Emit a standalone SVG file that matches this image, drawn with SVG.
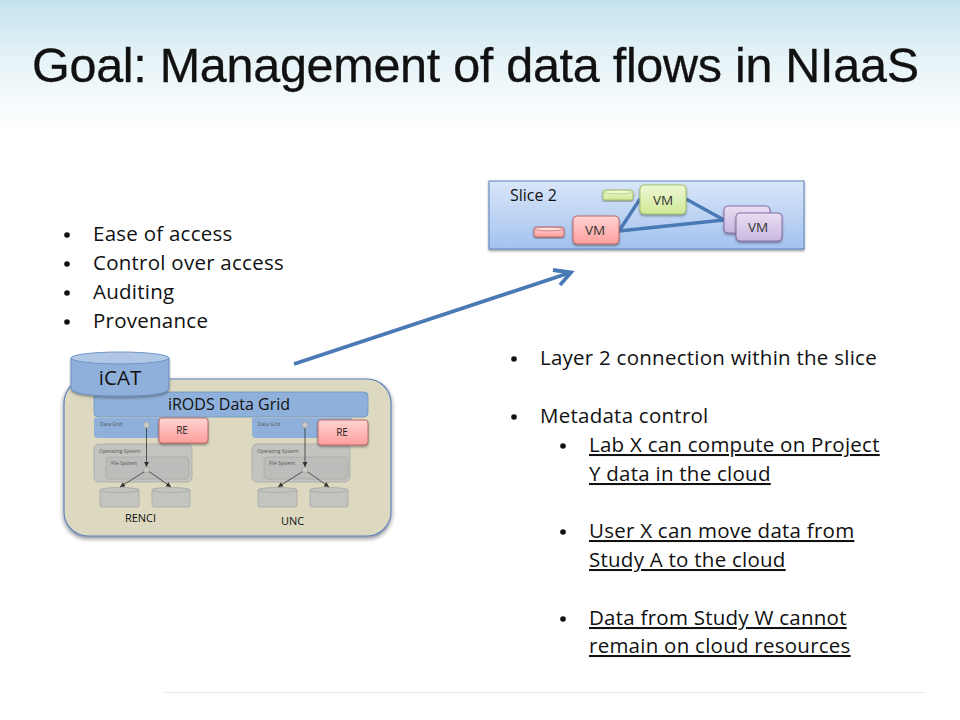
<svg xmlns="http://www.w3.org/2000/svg" width="960" height="720" viewBox="0 0 960 720">
<defs>
<linearGradient id="bg" x1="0" y1="0" x2="0" y2="1"><stop offset="0" stop-color="#c4e2ee"/><stop offset="0.45" stop-color="#e6f3f7"/><stop offset="1" stop-color="#ffffff"/></linearGradient>
<linearGradient id="slice" x1="0" y1="0" x2="0" y2="1"><stop offset="0" stop-color="#d9e6f8"/><stop offset="1" stop-color="#a3c2f0"/></linearGradient>
<linearGradient id="red" x1="0" y1="0" x2="0" y2="1"><stop offset="0" stop-color="#ffd4d2"/><stop offset="1" stop-color="#fd9e9c"/></linearGradient>
<linearGradient id="green" x1="0" y1="0" x2="0" y2="1"><stop offset="0" stop-color="#eef8d4"/><stop offset="1" stop-color="#cfe996"/></linearGradient>
<linearGradient id="purple" x1="0" y1="0" x2="0" y2="1"><stop offset="0" stop-color="#e8dff2"/><stop offset="1" stop-color="#c9b7e0"/></linearGradient>
<filter id="sh" x="-10%" y="-10%" width="120%" height="125%"><feDropShadow dx="0" dy="1.500" stdDeviation="1.200" flood-color="#333" flood-opacity="0.5"/></filter>
<filter id="sh2" x="-10%" y="-10%" width="120%" height="125%"><feDropShadow dx="0" dy="2" stdDeviation="2" flood-color="#222" flood-opacity="0.55"/></filter>
<marker id="ah" markerWidth="6" markerHeight="6" refX="5" refY="2.500" orient="auto" markerUnits="userSpaceOnUse"><path d="M0,0 L5,2.500 L0,5 Z" fill="#333"/></marker>
</defs>
<style>
text{font-family:"Open Sans","Liberation Sans",sans-serif;fill:#111}
.b{font-size:20.500px;letter-spacing:0.250px}
.u{font-size:20.500px;letter-spacing:0.250px;text-decoration:underline}
.s{font-size:10px;text-anchor:middle;fill:#222}
.vt{font-size:13.500px;text-anchor:middle;fill:#333}
.t{font-size:5px;fill:#555}
.g{fill:#c3c3c0;stroke:#a8a8a6;stroke-width:0.800}
.gi{fill:#bcbcba;stroke:#a8a8a6;stroke-width:0.800}
.l{stroke:#333;stroke-width:0.800;fill:none}
.vmr{fill:url(#red);stroke:#b96a6a;stroke-width:1;filter:url(#sh)}
.vmg{fill:url(#green);stroke:#a5c46c;stroke-width:1;filter:url(#sh)}
.vmp{fill:url(#purple);stroke:#8a70a8;stroke-width:1;filter:url(#sh)}
</style>
<rect width="960" height="130" fill="url(#bg)"/>
<line x1="165" y1="692.500" x2="925" y2="692.500" stroke="#e4e4e4"/>
<text x="32" y="82" style="font-family:'Liberation Sans',Arial,sans-serif;font-size:48.500px" textLength="887" stroke="#111" stroke-width="0.300">Goal: Management of data flows in NIaaS</text>

<g id="bullets-left">
<circle cx="67" cy="235" r="2.800" fill="#111"/><text class="b" x="93" y="241">Ease of access</text>
<circle cx="67" cy="264" r="2.800" fill="#111"/><text class="b" x="93" y="270">Control over access</text>
<circle cx="67" cy="293" r="2.800" fill="#111"/><text class="b" x="93" y="299">Auditing</text>
<circle cx="67" cy="322" r="2.800" fill="#111"/><text class="b" x="93" y="328">Provenance</text>
</g>

<g id="slice-2">
<rect x="489" y="181" width="315" height="68" fill="url(#slice)" stroke="#5f86bd" stroke-width="1" filter="url(#sh)"/>
<text x="510" y="201" font-size="16">Slice 2</text>
</g>

<g id="connectors">
<g stroke="#4a7ab5" stroke-width="3.400" fill="none">
<line x1="619" y1="231" x2="640" y2="199"/>
<line x1="619" y1="231" x2="724" y2="220"/>
<line x1="686" y1="199" x2="724" y2="220"/>
</g>
<path d="M294 364 L569 273" stroke="#4a7ab5" stroke-width="3.800" fill="none"/>
<path d="M553 270 L571 272.500 L560 285" stroke="#4a7ab5" stroke-width="3.800" fill="none"/>
</g>

<g id="disk-red"><rect x="534" y="227" width="30" height="10" rx="2.500" class="vmr"/><ellipse cx="549" cy="229" rx="15" ry="1.800" fill="#ffdedd" stroke="#b96a6a" stroke-width="0.700"/></g>
<g id="disk-green"><rect x="603" y="190" width="30" height="10" rx="2.500" class="vmg"/><ellipse cx="618" cy="192" rx="15" ry="1.800" fill="#f2fadc" stroke="#a5c46c" stroke-width="0.700"/></g>
<g id="vm-red"><rect x="573" y="216" width="46" height="28" rx="4" class="vmr"/><text class="vt" x="595" y="235">VM</text></g>
<g id="vm-green"><rect x="640" y="185" width="46" height="29" rx="4" class="vmg"/><text class="vt" x="663" y="205">VM</text></g>
<g id="vm-purple-back"><rect x="724" y="206" width="46" height="27" rx="4" class="vmp"/></g>
<g id="vm-purple-front"><rect x="736" y="213" width="46" height="28" rx="4" class="vmp"/><text class="vt" x="758" y="232">VM</text></g>

<g id="grid">
<rect x="64" y="379" width="327" height="157" rx="24" fill="#ddd8c0" stroke="#5f86bd" stroke-width="1.200" filter="url(#sh2)"/>
</g>
<g id="irods-grid">
<rect x="94" y="392" width="274" height="25" rx="4" fill="#8eb0da" stroke="#6f94c4" stroke-width="0.800"/>
<text x="229" y="410" text-anchor="middle" font-size="16">iRODS Data Grid</text>
</g>
<g id="renci">
<path d="M94 418 H195 V438 H98 Q94 438 94 434 Z" fill="#8eb0da"/>
<text class="t" x="100" y="426">Data Grid</text>
<rect x="94" y="444" width="98" height="38" rx="5" class="g"/>
<text class="t" x="99" y="453">Operating System</text>
<rect x="106" y="457" width="83" height="22" rx="4" class="gi"/>
<text class="t" x="111" y="465">File System</text>
<rect x="100" y="489" width="39" height="18" rx="2" class="g"/><ellipse cx="119.500" cy="490" rx="19.500" ry="2.500" class="g"/>
<rect x="152" y="489" width="38" height="18" rx="2" class="g"/><ellipse cx="171" cy="490" rx="19" ry="2.500" class="g"/>
<line class="l" x1="146.500" y1="425" x2="146.500" y2="467" marker-end="url(#ah)"/>
<line class="l" x1="147" y1="470" x2="120" y2="487" marker-end="url(#ah)"/>
<line class="l" x1="147" y1="470" x2="171" y2="487" marker-end="url(#ah)"/>
<circle cx="146.500" cy="425" r="3" fill="#c9c9c6" stroke="#999" stroke-width="0.600"/>
<circle cx="146.500" cy="470" r="3" fill="#c9c9c6" stroke="#999" stroke-width="0.600"/>
<text x="140.500" y="522" text-anchor="middle" font-size="11" fill="#222">RENCI</text>
</g>
<g id="unc">
<path d="M252 418 H352 V438 H256 Q252 438 252 434 Z" fill="#8eb0da"/>
<text class="t" x="258" y="426">Data Grid</text>
<rect x="252" y="444" width="98" height="38" rx="5" class="g"/>
<text class="t" x="257" y="453">Operating System</text>
<rect x="264" y="457" width="84" height="22" rx="4" class="gi"/>
<text class="t" x="269" y="465">File System</text>
<rect x="258" y="489" width="39" height="18" rx="2" class="g"/><ellipse cx="277.500" cy="490" rx="19.500" ry="2.500" class="g"/>
<rect x="310" y="489" width="38" height="18" rx="2" class="g"/><ellipse cx="329" cy="490" rx="19" ry="2.500" class="g"/>
<line class="l" x1="305" y1="425" x2="305" y2="467" marker-end="url(#ah)"/>
<line class="l" x1="305" y1="470" x2="278" y2="487" marker-end="url(#ah)"/>
<line class="l" x1="305" y1="470" x2="329" y2="487" marker-end="url(#ah)"/>
<circle cx="305" cy="425" r="3" fill="#c9c9c6" stroke="#999" stroke-width="0.600"/>
<circle cx="305" cy="470" r="3" fill="#c9c9c6" stroke="#999" stroke-width="0.600"/>
<text x="292.500" y="525" text-anchor="middle" font-size="11" fill="#222">UNC</text>
</g>
<g id="re-1"><rect x="159" y="418" width="49" height="25" rx="3" class="vmr"/><text class="s" x="182" y="434">RE</text></g>
<g id="re-2"><rect x="318" y="420" width="50" height="25" rx="3" class="vmr"/><text class="s" x="342" y="436">RE</text></g>
<g id="icat">
<path d="M71 358 V388 Q71 396 120 396 Q169 396 169 388 V358 Z" fill="#8eb0da" stroke="#6f94c4" filter="url(#sh)"/>
<ellipse cx="120" cy="358" rx="49" ry="6" fill="#b0c8e6" stroke="#6f94c4"/>
<text x="120" y="385" text-anchor="middle" font-size="20.500">iCAT</text>
</g>

<g id="bullets-right">
<circle cx="514" cy="359" r="2.800" fill="#111"/><text class="b" x="540" y="365">Layer 2 connection within the slice</text>
<circle cx="514" cy="417" r="2.800" fill="#111"/><text class="b" x="540" y="423">Metadata control</text>
<circle cx="563" cy="446" r="2.800" fill="#111"/><text class="u" x="589" y="452">Lab X can compute on Project</text><text class="u" x="589" y="481">Y data in the cloud</text>
<circle cx="563" cy="532" r="2.800" fill="#111"/><text class="u" x="589" y="538">User X can move data from</text><text class="u" x="589" y="567">Study A to the cloud</text>
<circle cx="563" cy="619" r="2.800" fill="#111"/><text class="u" x="589" y="625">Data from Study W cannot</text><text class="u" x="589" y="653">remain on cloud resources</text>
</g>
</svg>
